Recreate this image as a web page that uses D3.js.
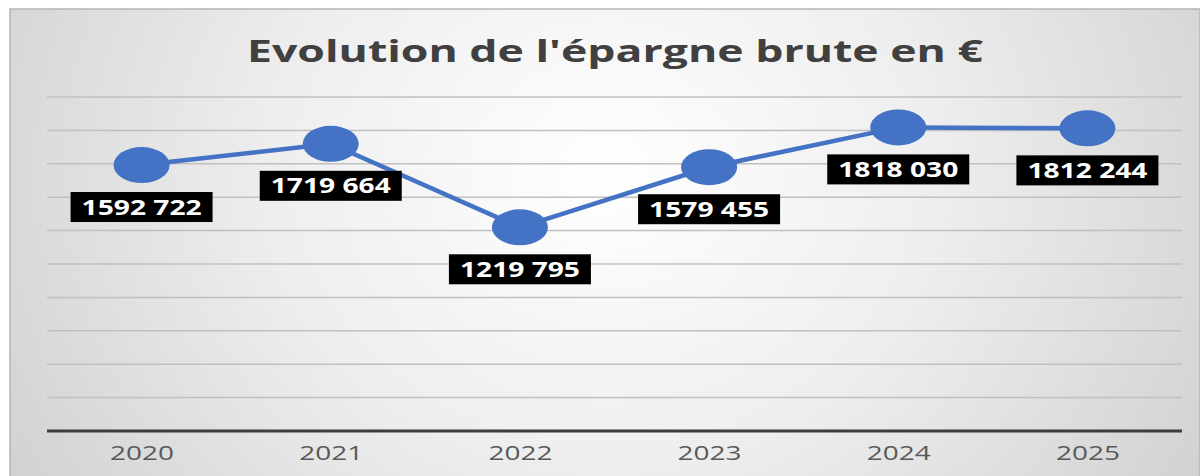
<!DOCTYPE html>
<html><head><meta charset="utf-8">
<script src="https://cdn.jsdelivr.net/npm/d3@7"></script>
<style>html,body{margin:0;padding:0;background:#fff;}svg{display:block;}</style>
</head><body>
<svg id="c" width="1200" height="476"></svg>
<script>
const categories = ["2020","2021","2022","2023","2024","2025"];
const values = [1592722, 1719664, 1219795, 1579455, 1818030, 1812244];
const valueLabels = ["1592 722","1719 664","1219 795","1579 455","1818 030","1812 244"];
const yTicks = [0,200000,400000,600000,800000,1000000,1200000,1400000,1600000,1800000,2000000];
const title = "Evolution de l'épargne brute en €";

(function(){
const svg = d3.select("#c");
const defs = svg.append("defs");
const g = defs.append("radialGradient").attr("id","bg").attr("cx","50%").attr("cy","35%").attr("r","70%")
  .attr("gradientTransform","translate(0.5,0.35) scale(1,2.2) translate(-0.5,-0.35)");
g.append("stop").attr("offset","0%").attr("stop-color","#ffffff");
g.append("stop").attr("offset","40%").attr("stop-color","#eeeeee");
g.append("stop").attr("offset","100%").attr("stop-color","#c6c6c6");

svg.append("rect").attr("x",10).attr("y",9).attr("width",1190).attr("height",470)
  .attr("fill","url(#bg)").attr("stroke","#b5b5b5").attr("stroke-width",1.5);

const mLeft = 47, mRight = 1182, mTop = 97, mBottom = 431;
const x = d3.scalePoint().domain(categories).range([mLeft, mRight]).padding(0.5);
const y = d3.scaleLinear().domain([0, 2000000]).range([mBottom, mTop]);

svg.append("g").selectAll("line").data(yTicks.filter(d=>d>0)).join("line")
  .attr("x1",mLeft).attr("x2",mRight).attr("y1",d=>y(d)).attr("y2",d=>y(d))
  .attr("stroke","#c0c0c0").attr("stroke-width",1.5);

const xAxis = svg.append("g").attr("transform",`translate(0,${mBottom})`)
  .call(d3.axisBottom(x).tickSize(0).tickPadding(20));
xAxis.select(".domain").remove();
xAxis.append("line").attr("x1",mLeft).attr("x2",mRight).attr("y1",0).attr("y2",0)
  .attr("stroke","#3d3d3d").attr("stroke-width",3);
xAxis.selectAll("text").attr("font-family","Open Sans").attr("font-size",20)
  .attr("fill","#595959").attr("textLength",64).attr("lengthAdjust","spacingAndGlyphs")
  .attr("dy","0.45em");

svg.append("text").attr("x",615).attr("y",62).attr("text-anchor","middle")
  .attr("font-family","Open Sans").attr("font-weight","bold").attr("font-size",30)
  .attr("fill","#404040").attr("textLength",736).attr("lengthAdjust","spacingAndGlyphs")
  .text(title);

const data = categories.map((c,i)=>({c, v:values[i], l:valueLabels[i]}));

svg.append("path").datum(data)
  .attr("d", d3.line().x(d=>x(d.c)).y(d=>y(d.v)))
  .attr("fill","none").attr("stroke","#4472C4").attr("stroke-width",4.5);

svg.append("g").selectAll("ellipse").data(data).join("ellipse")
  .attr("cx",d=>x(d.c)).attr("cy",d=>y(d.v)).attr("rx",28).attr("ry",18)
  .attr("fill","#4472C4");

const lab = svg.append("g").selectAll("g").data(data).join("g")
  .attr("transform",d=>`translate(${x(d.c)},${y(d.v)+42})`);
lab.append("rect").attr("x",-71).attr("y",-15).attr("width",142).attr("height",30).attr("fill","#000");
lab.append("text").attr("text-anchor","middle").attr("dy","0.36em")
  .attr("font-family","Open Sans").attr("font-weight","bold").attr("font-size",21)
  .attr("fill","#fff").attr("textLength",120).attr("lengthAdjust","spacingAndGlyphs")
  .text(d=>d.l);
})();
</script>
</body></html>
